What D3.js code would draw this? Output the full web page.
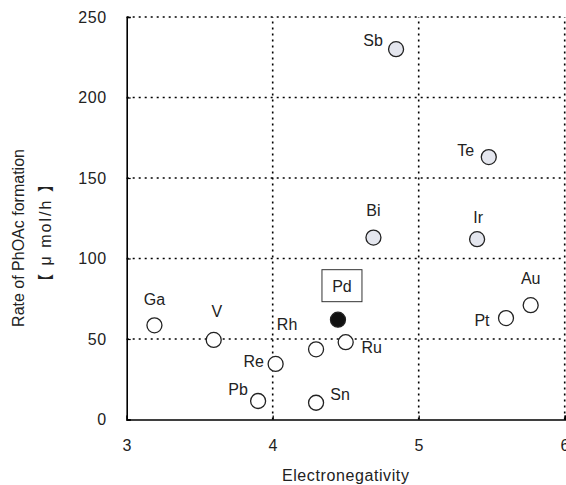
<!DOCTYPE html>
<html>
<head>
<meta charset="utf-8">
<script src="https://cdn.jsdelivr.net/npm/d3@7"></script>
<style>
body { margin: 0; background: #fff; }
text { font-family: "Liberation Sans", Arial, sans-serif; fill: #222; }
</style>
</head>
<body>
<script>
var width = 566,
    height = 485;

// donnees
var metals = ["Sb", "Te", "Bi", "Ir", "Ga", "V", "Re", "Pb", "Pd", "Rh", "Ru", "Sn", "Pt", "Au"];
var electroneg = [4.845, 5.48, 4.69, 5.40, 3.19, 3.596, 4.02, 3.90, 4.447, 4.297, 4.50, 4.297, 5.598, 5.767];
var rate = [230, 163, 113, 112, 58.5, 49.4, 34.5, 11.5, 62, 43.6, 48, 10.4, 63, 71];
var groupe = ["gris", "gris", "gris", "gris", "blanc", "blanc", "blanc", "blanc", "noir", "blanc", "blanc", "blanc", "blanc", "blanc"];
// decalage des etiquettes (dx, dy en px par rapport au point)
var labelDx = [-23, -23, 0, 1, 0, 3, -22, -20, 0, -29, 26, 24, -24, 0];
var labelDy = [-3, -1, -22, -16, -20, -23, 3, -6, 0, -19, 11, -3, 8, -21];

var xTicks = [3, 4, 5, 6];
var yTicks = [0, 50, 100, 150, 200, 250];

var margin = {top: 17, right: 1.3, bottom: 65.5, left: 126.7};
var fs = "16px";

var svg = d3.select("body").append("svg")
    .attr("width", width)
    .attr("height", height);

var x = d3.scaleLinear().domain([3, 6]).range([margin.left, width - margin.right]);
var y = d3.scaleLinear().domain([0, 250]).range([height - margin.bottom, margin.top]);

var data = metals.map(function (m, i) {
    return {nom: m, x: electroneg[i], y: rate[i], g: groupe[i], dx: labelDx[i], dy: labelDy[i]};
});

// grille pointillee
svg.append("g").selectAll("line.h")
    .data(yTicks.filter(d => d > 0))
    .join("line")
    .attr("x1", x(3)).attr("x2", x(6))
    .attr("y1", d => y(d)).attr("y2", d => y(d))
    .attr("stroke", "#000").attr("stroke-width", 1.6)
    .attr("stroke-dasharray", "2,4");

svg.append("g").selectAll("line.v")
    .data(xTicks.filter(d => d > 3))
    .join("line")
    .attr("x1", d => x(d)).attr("x2", d => x(d))
    .attr("y1", y(0)).attr("y2", y(250))
    .attr("stroke", "#000").attr("stroke-width", 1.6)
    .attr("stroke-dasharray", "2,4");

// axes
var xAxis = d3.axisBottom(x).tickValues(xTicks).tickSize(-4).tickPadding(20).tickFormat(d3.format("d"));
var yAxis = d3.axisLeft(y).tickValues(yTicks).tickSize(-4).tickPadding(20).tickFormat(d3.format("d"));

var gx = svg.append("g").attr("transform", "translate(0," + y(0) + ")").call(xAxis);
var gy = svg.append("g").attr("transform", "translate(" + x(3) + ",0)").call(yAxis);

[gx, gy].forEach(function (g) {
    g.select(".domain").attr("stroke", "#000").attr("stroke-width", 1.6);
    g.selectAll(".tick line").attr("stroke", "#000").attr("stroke-width", 1.2);
    g.selectAll(".tick text").style("font-size", fs).attr("fill", "#222")
        .style("letter-spacing", "0.6px")
        .style("font-family", "'Liberation Sans', Arial, sans-serif");
});

svg.append("text")
    .attr("x", (x(3) + x(6)) / 2)
    .attr("y", 481)
    .attr("text-anchor", "middle")
    .style("font-size", fs)
    .style("letter-spacing", "0.6px")
    .text("Electronegativity");

svg.append("text")
    .attr("transform", "translate(24,238) rotate(-90)")
    .attr("text-anchor", "middle")
    .style("font-size", fs)
    .text("Rate of PhOAc formation");

svg.append("text")
    .attr("transform", "translate(51,232) rotate(-90)")
    .attr("text-anchor", "middle")
    .style("font-size", fs)
    .style("letter-spacing", "2px")
    .style("font-family", "'Liberation Sans', 'Noto Sans CJK JP', sans-serif")
    .text("【 μ mol/h 】");

// points
var couleurs = {gris: "#e4e6ee", blanc: "#fff", noir: "#111"};

svg.append("g").selectAll("circle")
    .data(data)
    .join("circle")
    .attr("cx", d => x(d.x))
    .attr("cy", d => y(d.y))
    .attr("r", 7.5)
    .attr("fill", d => couleurs[d.g])
    .attr("stroke", "#222")
    .attr("stroke-width", 1.3);

// etiquettes
svg.append("g").selectAll("text")
    .data(data.filter(d => d.nom != "Pd"))
    .join("text")
    .attr("x", d => x(d.x) + d.dx)
    .attr("y", d => y(d.y) + d.dy)
    .attr("text-anchor", "middle")
    .style("font-size", fs)
    .text(d => d.nom);

// Pd dans un cadre
var pd = data.find(d => d.nom == "Pd");
var pdX = x(pd.x) + 4, pdY = y(pd.y) - 34;
svg.append("rect")
    .attr("x", pdX - 20).attr("y", pdY - 16)
    .attr("width", 40).attr("height", 32)
    .attr("fill", "#fff")
    .attr("stroke", "#333").attr("stroke-width", 1);
svg.append("text")
    .attr("x", pdX).attr("y", pdY + 6)
    .attr("text-anchor", "middle")
    .style("font-size", fs)
    .text("Pd");
</script>
</body>
</html>
